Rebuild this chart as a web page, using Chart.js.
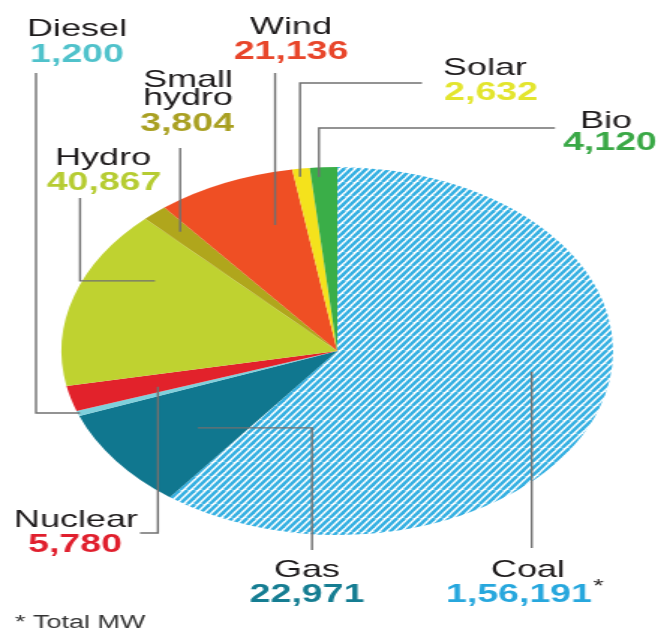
<!DOCTYPE html>
<html><head><meta charset="utf-8">
<script src="https://cdn.jsdelivr.net/npm/chart.js@4"></script>
<style>
html,body{margin:0;padding:0;background:#fff;overflow:hidden}
#c{display:block}
</style></head><body>
<canvas id="c" width="439" height="630" style="width:658px;height:630px"></canvas>
<script>
// ---- data ----
const categories = ['Coal','Gas','Diesel','Nuclear','Hydro','Small hydro','Wind','Solar','Bio'];
const capacityMW = [156191, 22971, 1200, 5780, 40867, 3804, 21136, 2632, 4120];
const valueLabels = ['1,56,191','22,971','1,200','5,780','40,867','3,804','21,136','2,632','4,120'];
const footnote = '* Total MW';

// ---- styles ----
const sliceColors = [null,'#10778f','#7fd0dc','#e2222b','#bfd230','#b0a61c','#ef4f24','#f4e21c','#3aae48'];
const valueColors = ['#27a7dd','#157d92','#50c2cb','#e01f2d','#b6cc32','#a9a022','#e8462b','#e3e52e','#3aa846'];

const S = 658/439; // horizontal stretch of the original graphic

// hatch for coal
const pc = document.createElement('canvas'); pc.width = 10; pc.height = 14;
const p = pc.getContext('2d');
p.fillStyle = '#ffffff'; p.fillRect(0,0,10,14);
p.strokeStyle = '#35b0e2'; p.lineWidth = 2.5;
for (let x0 = -10; x0 <= 10; x0 += 5) { p.beginPath(); p.moveTo(x0,14); p.lineTo(x0+10,0); p.stroke(); }
const hatch = document.getElementById('c').getContext('2d').createPattern(pc,'repeat');
const bg = sliceColors.map(c => c === null ? hatch : c);

// label layout (final-image coordinates)
const layout = [
 {names:['Coal'], nx:528, ny:[577], vx:519, vy:602, a:0.456, f:0.714, path:[['v',548]], star:true},
 {names:['Gas'], nx:307, ny:[577], vx:307, vy:602, a:0.41, f:0.656, path:[['h',312],['v',550]]},
 {names:['Diesel'], nx:77, ny:[36], vx:77, vy:62, a:0.5, f:0.992, path:[['h',36],['v',73]]},
 {names:['Nuclear'], nx:76, ny:[527], vx:75, vy:552, a:0.29, f:0.679, path:[['v',533],['h',140]]},
 {names:['Hydro'], nx:103, ny:[165], vx:104, vy:190, a:0.72, f:0.763, path:[['h',80],['v',198]]},
 {names:['Small','hydro'], nx:188, ny:[87,105], vx:187, vy:131, a:0.53, f:0.863, path:[['v',148]]},
 {names:['Wind'], nx:291, ny:[34], vx:291, vy:59, a:0.70, f:0.721, path:[['v',73]]},
 {names:['Solar'], nx:485, ny:[75], vx:491, vy:100, a:0.35, f:0.956, path:[['v',83],['h',422]]},
 {names:['Bio'], nx:606, ny:[128], vx:610, vy:150, a:0.3, f:0.948, path:[['v',128],['h',555]]}
];

const labelPlugin = {
  id: 'labels',
  afterDatasetsDraw(chart) {
    const ctx = chart.ctx;
    const meta = chart.getDatasetMeta(0);
    ctx.save();
    ctx.strokeStyle = '#707070';
    ctx.lineWidth = 1.4;
    meta.data.forEach((arc, i) => {
      const L = layout[i];
      const {x, y, startAngle, endAngle, outerRadius} = arc.getProps(['x','y','startAngle','endAngle','outerRadius'], true);
      const ang = startAngle + (endAngle - startAngle) * L.a;
      const r = outerRadius * L.f;
      let px = x + Math.cos(ang) * r, py = y + Math.sin(ang) * r;
      ctx.beginPath(); ctx.moveTo(px, py);
      L.path.forEach(([t, v]) => { if (t === 'v') py = v; else px = v / S; ctx.lineTo(px, py); });
      ctx.stroke();
    });
    ctx.restore();
  },
  afterDraw(chart) {
    const ctx = chart.ctx;
    ctx.save();
    ctx.textAlign = 'center';
    ctx.textBaseline = 'alphabetic';
    chart.data.labels.forEach((lab, i) => {
      const L = layout[i];
      ctx.fillStyle = '#1e1b1c';
      ctx.font = '24px "Liberation Sans", Arial, sans-serif';
      L.names.forEach((n, k) => ctx.fillText(n, L.nx / S, L.ny[k]));
      ctx.fillStyle = valueColors[i];
      ctx.font = 'bold 25px "Liberation Sans", Arial, sans-serif';
      ctx.fillText(valueLabels[i], L.vx / S, L.vy);
      if (L.star) {
        ctx.fillStyle = '#231f20';
        ctx.font = '18px "Liberation Sans", Arial, sans-serif';
        ctx.textAlign = 'left';
        ctx.textBaseline = 'top';
        ctx.fillText('*', 593 / S, 578);
        ctx.textAlign = 'center';
        ctx.textBaseline = 'alphabetic';
      }
    });
    ctx.fillStyle = '#333333';
    ctx.font = '18px "Liberation Sans", Arial, sans-serif';
    ctx.textAlign = 'left';
    ctx.fillText(footnote, 15 / S, 628);
    ctx.restore();
  }
};

new Chart(document.getElementById('c'), {
  type: 'pie',
  data: {
    labels: categories,
    datasets: [{ data: capacityMW, backgroundColor: bg, borderWidth: 0, hoverOffset: 0, offset: 0 }]
  },
  options: {
    responsive: false,
    animation: false,
    devicePixelRatio: 1,
    layout: { padding: { left: 41, right: 30, top: 167, bottom: 95 } },
    plugins: { legend: { display: false }, tooltip: { enabled: false } },
    events: []
  },
  plugins: [labelPlugin]
});
</script>
</body></html>
